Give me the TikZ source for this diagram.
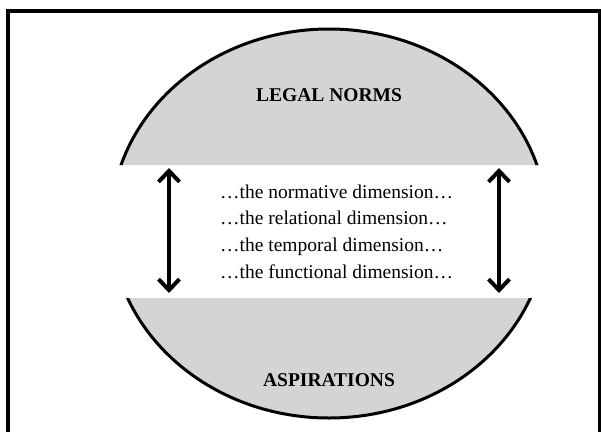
\documentclass[tikz,border=0pt]{standalone}
\usepackage{fontspec}
\setmainfont{Liberation Serif}
\usetikzlibrary{arrows.meta}
\definecolor{capgray}{RGB}{212,212,212}
\tikzset{
  dimtext/.style={anchor=base west,inner sep=0pt,font=\fontsize{19.5}{24}\selectfont},
  captext/.style={anchor=base,inner sep=0pt,font=\fontsize{19.5}{24}\selectfont\bfseries},
  dimarrow/.style={line width=4pt,{Straight Barb[length=11pt,width=21pt,line width=4pt]}-{Straight Barb[length=11pt,width=21pt,line width=4pt]}}
}
\begin{document}
\begin{tikzpicture}[x=1pt,y=-1pt]
      \clip (0,0) rectangle (601,431);
      \fill[white] (0,0) rectangle (601,431);
      % frame
      \draw[line width=3.5pt] (8,445) -- (8,11) -- (599.5,11) -- (599.5,445);
      % the two caps of the ellipse
      \begin{scope}
        \clip (0,0) rectangle (601,165) (0,298) rectangle (601,431);
        \fill[capgray] (329,223.5) ellipse [x radius=218pt, y radius=194.5pt];
        \draw[line width=3pt] (329,223.5) ellipse [x radius=218pt, y radius=194.5pt];
      \end{scope}
      \draw
        (329,101.5) node[captext] (norms){LEGAL NORMS}
        (329,386.5) node[captext] (aspir){ASPIRATIONS};
      \draw
        (220,198) node[dimtext] (normative){…the normative dimension…}
        (220,224.7) node[dimtext] (relational){…the relational dimension…}
        (220,251.3) node[dimtext] (temporal){…the temporal dimension…}
        (220,278) node[dimtext] (functional){…the functional dimension…};
      \coordinate (lt) at (169,168);
      \coordinate (lb) at (169,293);
      \coordinate (rt) at (499,168);
      \coordinate (rb) at (499,293);
      \begin{scope}[dimarrow]
        \draw (lt) to (lb);
        \draw (rt) to (rb);
      \end{scope}
    \end{tikzpicture}
\end{document}
